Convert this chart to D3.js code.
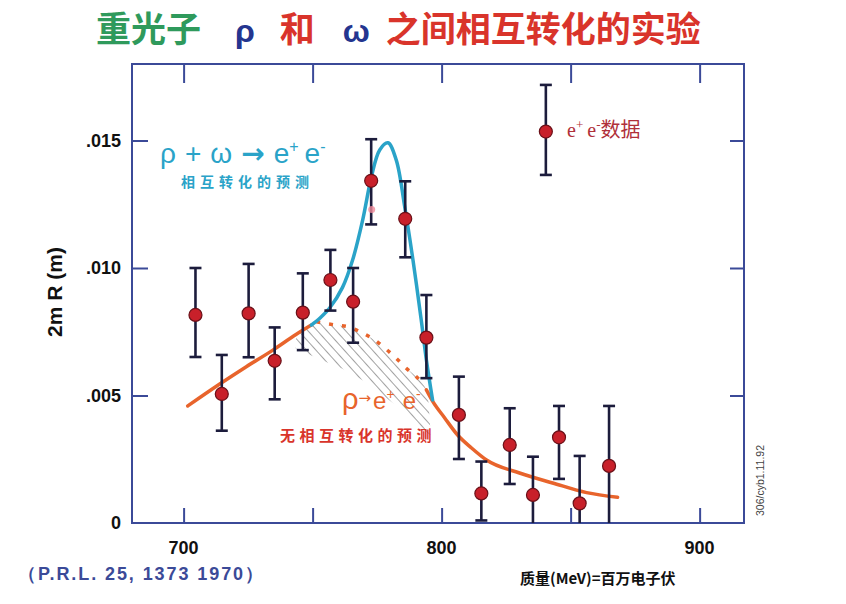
<!DOCTYPE html>
<html><head><meta charset="utf-8">
<script src="https://cdn.jsdelivr.net/npm/d3@7"></script>
<style>
html,body{margin:0;padding:0;background:#fff;}
svg{display:block;}
</style></head>
<body>
<svg id="chart" width="846" height="604"></svg>
<script>
// ---------- data ----------
const xTicks = [700, 750, 800, 850, 900];
const xTickLabels = ["700", "800", "900"];
const xLabelValues = [700, 800, 900];
const yTicks = [0, 0.005, 0.010, 0.015];
const yTickLabels = ["0", ".005", ".010", ".015"];

const massData = [704.6, 714.8, 725.2, 735.3, 746.2, 756.9, 765.7, 772.7, 785.9, 794.1, 806.7, 815.4, 826.4, 835.4, 845.5, 853.5, 864.9];
const rValues  = [.00816, .00506, .00822, .00636, .00825, .00953, .00868, .01342, .01193, .00727, .00424, .00116, .00306, .0011, .00336, .00077, .00224];
const errHigh  = [.0100, .00659, .01016, .00767, .00979, .01071, .0100, .01505, .0134, .00894, .00574, .00241, .0045, .0026, .00459, .00263, .00459];
const errLow   = [.00651, .00362, .0065, .00485, .00678, .00833, .00707, .01171, .01042, .00568, .00251, .0001, .00153, 0, .00173, 0, 0];

const faintPoint = [772.9, .01229];

const orangeSolidA = [[701.6,.00459],[714,.00545],[724.3,.00613],[734.6,.00678],[743.7,.0074],[749.5,.00776]];
const orangeDashed = [[751.4,.00789],[759.2,.00776],[763.6,.0077],[769.4,.00745],[774,.00718],[778.6,.00681],[782.4,.00646],[786.3,.00607],[789.5,.0058],[792.7,.00548]];
const orangeSolidB = [[794.1,.00522],[796.5,.00478],[801.2,.00412],[806.2,.00345],[811.6,.00294],[817.4,.00247],[830.2,.00196],[843,.00157],[856.2,.00119],[868.2,.00101]];
const blueCurve = [[749.5,.00776],[753,.00805],[756.6,.00843],[761.6,.00924],[765.5,.01031],[769.4,.01188],[772.8,.01358],[776,.01463],[779.2,.01491],[782.4,.01424],[785.7,.0124],[788.9,.01031],[792.1,.00796],[794.1,.00639],[796.5,.00482]];
const hatchTop = [[743.7,.0074],[749.5,.00776],[751.4,.00789],[759.2,.00776],[763.6,.0077],[769.4,.00745],[774,.00718],[778.6,.00681],[782.4,.00646],[786.3,.00607],[789.5,.0058],[792.7,.00548],[794.6,.00515]];
const hatchBottom = [[795.8,.00345],[792.2,.00365],[787.6,.00412],[781,.00472],[770.9,.00551],[761.6,.00605],[752.7,.00642],[743.4,.00685]];

const legendPoint = {m: 840.4, v: .01535, hi: .01718, lo: .01365};

// ---------- layout ----------
const svg = d3.select("#chart");
const L = 132, R = 744, T = 64, B = 523;
const x = d3.scaleLinear().domain([680, 917.2]).range([L, R]);
const y = d3.scaleLinear().domain([0, 0.018]).range([B, T]);

const navy = "#3b4a98";
const ink = "#1c1c3c";
const orange = "#e8642c";
const cyan = "#2aa3c8";
const red = "#c8202a";

const defs = svg.append("defs");
const pat = defs.append("pattern").attr("id","hatch").attr("patternUnits","userSpaceOnUse")
  .attr("width",7).attr("height",7).attr("patternTransform","rotate(-42)");
pat.append("line").attr("x1",0).attr("y1",0).attr("x2",0).attr("y2",7)
  .attr("stroke","#7a7a7a").attr("stroke-width",1.4);

// ---------- title ----------
const title = svg.append("text").attr("x", 96).attr("y", 42)
  .attr("font-family","'Noto Sans CJK SC'").attr("font-weight","bold").attr("font-size",35);
title.append("tspan").attr("fill","#2f9a5c").text("重光子");
title.append("tspan").attr("fill","#24358f").attr("dx",34).attr("font-family","'Liberation Sans'").attr("font-size",32).text("ρ");
title.append("tspan").attr("fill","#d9342b").attr("dx",25).text("和");
title.append("tspan").attr("fill","#24358f").attr("dx",28).attr("font-family","'Liberation Sans'").attr("font-size",32).text("ω");
title.append("tspan").attr("fill","#d9342b").attr("dx",16).text("之间相互转化的实验");

// ---------- frame ----------
svg.append("rect").attr("x",L).attr("y",T).attr("width",R-L).attr("height",B-T)
  .attr("fill","none").attr("stroke",navy).attr("stroke-width",2);

const xAxisB = d3.axisBottom(x).tickValues(xTicks).tickSize(-15).tickFormat("");
svg.append("g").attr("transform",`translate(0,${B})`).call(xAxisB)
  .call(g=>{g.select(".domain").remove(); g.selectAll("line").attr("stroke",navy).attr("stroke-width",2);});
const xAxisT = d3.axisTop(x).tickValues(xTicks).tickSize(-19).tickFormat("");
svg.append("g").attr("transform",`translate(0,${T})`).call(xAxisT)
  .call(g=>{g.select(".domain").remove(); g.selectAll("line").attr("stroke",navy).attr("stroke-width",2);});
const yAxisL = d3.axisLeft(y).tickValues(yTicks.slice(1)).tickSize(-16).tickFormat("");
svg.append("g").attr("transform",`translate(${L},0)`).call(yAxisL)
  .call(g=>{g.select(".domain").remove(); g.selectAll("line").attr("stroke",navy).attr("stroke-width",2);});
const yAxisR = d3.axisRight(y).tickValues(yTicks.slice(1)).tickSize(-14).tickFormat("");
svg.append("g").attr("transform",`translate(${R},0)`).call(yAxisR)
  .call(g=>{g.select(".domain").remove(); g.selectAll("line").attr("stroke",navy).attr("stroke-width",2);});

svg.append("g").selectAll("text").data(xLabelValues).join("text")
  .attr("x", d=>x(d)).attr("y", 554).attr("text-anchor","middle")
  .attr("font-family","'Liberation Sans'").attr("font-weight","bold").attr("font-size",18).attr("fill","#111")
  .text((d,i)=>xTickLabels[i]);
svg.append("g").selectAll("text").data(yTicks).join("text")
  .attr("x", 121).attr("y", d=>y(d)+6).attr("text-anchor","end")
  .attr("font-family","'Liberation Sans'").attr("font-weight","bold").attr("font-size",18).attr("fill","#111")
  .text((d,i)=>yTickLabels[i]);

svg.append("text").attr("transform","translate(62,292) rotate(-90)").attr("text-anchor","middle")
  .attr("font-family","'Liberation Sans'").attr("font-weight","bold").attr("font-size",21).attr("fill","#111")
  .text("2m R (m)");

// ---------- hatch region ----------
const poly = d3.line().x(d=>x(d[0])).y(d=>y(d[1])).curve(d3.curveLinear);
svg.append("path").attr("d", poly(hatchTop.concat(hatchBottom)) + "Z").attr("fill","url(#hatch)");

// ---------- curves ----------
const line = d3.line().x(d=>x(d[0])).y(d=>y(d[1])).curve(d3.curveMonotoneX);
svg.append("path").attr("d", line(orangeSolidA)).attr("fill","none").attr("stroke",orange).attr("stroke-width",3.5).attr("stroke-linecap","round");
svg.append("path").attr("d", line(orangeDashed)).attr("fill","none").attr("stroke",orange).attr("stroke-width",3.5).attr("stroke-dasharray","4,9");
svg.append("path").attr("d", line(orangeSolidB)).attr("fill","none").attr("stroke",orange).attr("stroke-width",3.5).attr("stroke-linecap","round");
svg.append("path").attr("d", d3.line().x(d=>x(d[0])).y(d=>y(d[1])).curve(d3.curveCatmullRom)(blueCurve))
  .attr("fill","none").attr("stroke",cyan).attr("stroke-width",3.5).attr("stroke-linecap","round");

// ---------- error bars & points ----------
const pts = massData.map((m,i)=>({m, v:rValues[i], hi:errHigh[i], lo:errLow[i]}));
function drawPoint(g, d){
  g.append("line").attr("x1",x(d.m)).attr("x2",x(d.m)).attr("y1",y(d.hi)).attr("y2",y(d.lo))
    .attr("stroke",ink).attr("stroke-width",2.6);
  g.append("line").attr("x1",x(d.m)-6).attr("x2",x(d.m)+6).attr("y1",y(d.hi)).attr("y2",y(d.hi))
    .attr("stroke",ink).attr("stroke-width",2.6);
  if (d.lo > 0.00005) g.append("line").attr("x1",x(d.m)-6).attr("x2",x(d.m)+6).attr("y1",y(d.lo)).attr("y2",y(d.lo))
    .attr("stroke",ink).attr("stroke-width",2.6);
  g.append("circle").attr("cx",x(d.m)).attr("cy",y(d.v)).attr("r",6.5)
    .attr("fill",red).attr("stroke","#6a1018").attr("stroke-width",1.2);
}
const pg = svg.append("g");
pts.forEach(d=>drawPoint(pg,d));
svg.append("circle").attr("cx",x(faintPoint[0])).attr("cy",y(faintPoint[1])).attr("r",3.5).attr("fill","#f08a9a").attr("opacity",0.8);

drawPoint(svg.append("g"), legendPoint);
const lt = svg.append("text").attr("x",567).attr("y",137).attr("fill","#b0303a").attr("font-size",20);
lt.append("tspan").attr("font-family","'Liberation Serif'").text("e");
lt.append("tspan").attr("font-family","'Liberation Serif'").attr("font-size",13).attr("dy",-8).text("+");
lt.append("tspan").attr("font-family","'Liberation Serif'").attr("dy",8).attr("dx",4).text("e");
lt.append("tspan").attr("font-family","'Liberation Serif'").attr("font-size",13).attr("dy",-8).text("-");
lt.append("tspan").attr("font-family","'Noto Sans CJK SC'").attr("dy",8).text("数据");

// ---------- annotations ----------
const a1 = svg.append("text").attr("x",160).attr("y",163).attr("fill",cyan).attr("font-family","'Liberation Sans'").attr("font-size",28);
a1.append("tspan").text("ρ");
a1.append("tspan").attr("dx",9).text("+");
a1.append("tspan").attr("dx",9).text("ω");
a1.append("tspan").attr("dx",9).attr("font-family","'DejaVu Sans'").attr("font-weight","bold").attr("font-size",28).text("→");
a1.append("tspan").attr("dx",9).text("e");
a1.append("tspan").attr("font-size",16).attr("dy",-11).text("+");
a1.append("tspan").attr("dy",11).attr("dx",6).text("e");
a1.append("tspan").attr("font-size",16).attr("dy",-11).text("-");
svg.append("text").attr("x",181).attr("y",187).attr("fill",cyan).attr("font-family","'Noto Sans CJK SC'").attr("font-weight","bold")
  .attr("font-size",14).attr("letter-spacing",5).text("相互转化的预测");

const a2 = svg.append("text").attr("x",342).attr("y",409).attr("fill",orange).attr("font-family","'Liberation Sans'").attr("font-size",24);
a2.append("tspan").attr("font-size",29).text("ρ");
a2.append("tspan").attr("font-family","'DejaVu Sans'").attr("font-size",15).attr("dy",-6).text("→");
a2.append("tspan").attr("dy",6).attr("dx",2).text("e");
a2.append("tspan").attr("font-size",14).attr("dy",-10).text("+");
a2.append("tspan").attr("dy",10).attr("dx",8).text("e");
a2.append("tspan").attr("font-size",14).attr("dy",-10).text("-");
svg.append("text").attr("x",280).attr("y",441).attr("fill","#d9342b").attr("font-family","'Noto Sans CJK SC'").attr("font-weight","bold")
  .attr("font-size",15).attr("letter-spacing",4.5).text("无相互转化的预测");

svg.append("text").attr("transform","translate(764,516) rotate(-90)").attr("fill","#444")
  .attr("font-family","'Liberation Sans'").attr("font-size",10.5).text("306/cyb1.11.92");

svg.append("text").attr("x",18).attr("y",580).attr("fill","#3b4a98").attr("font-family","'Liberation Sans Narrow','Liberation Sans'")
  .attr("font-weight","bold").attr("font-size",18).attr("textLength",245).text("（P.R.L.  25,  1373   1970）");
svg.append("text").attr("x",520).attr("y",584).attr("fill","#111").attr("font-family","'Noto Sans CJK SC'").attr("font-weight","bold")
  .attr("font-size",15).text("质量(MeV)=百万电子伏");
</script>
</body></html>
